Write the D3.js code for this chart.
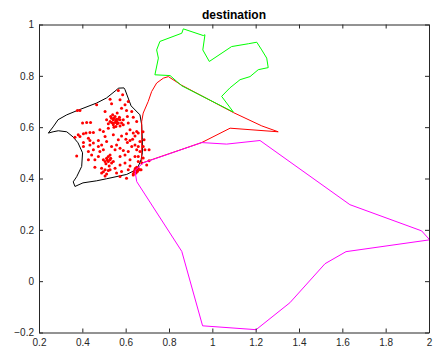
<!DOCTYPE html>
<html>
<head>
<meta charset="utf-8">
<script src="https://d3js.org/d3.v7.min.js"></script>
<style>
  body { margin: 0; background: #fff; }
  svg { display: block; font-family: "Liberation Sans", Arial, sans-serif; }
</style>
</head>
<body>
<svg id="chart" width="434" height="356"></svg>
<script>
// axis ticks
var xTicks = [0.2, 0.4, 0.6, 0.8, 1, 1.2, 1.4, 1.6, 1.8, 2];
var yTicks = [-0.2, 0, 0.2, 0.4, 0.6, 0.8, 1];

// origin region outline (black)
var regionBlack = [
  [0.243, 0.577], [0.265, 0.601], [0.288, 0.629], [0.328, 0.648], [0.374, 0.664],
  [0.466, 0.694], [0.512, 0.714], [0.559, 0.746], [0.566, 0.752], [0.592, 0.753],
  [0.597, 0.746], [0.625, 0.683], [0.666, 0.648], [0.674, 0.609], [0.677, 0.551],
  [0.677, 0.500], [0.671, 0.473], [0.657, 0.445], [0.638, 0.430], [0.605, 0.416],
  [0.512, 0.399], [0.466, 0.391], [0.403, 0.383], [0.366, 0.369], [0.358, 0.387],
  [0.374, 0.407], [0.397, 0.447], [0.401, 0.500], [0.380, 0.539], [0.357, 0.562],
  [0.328, 0.582], [0.289, 0.586], [0.265, 0.582]
];

// red region
var regionRed = [
  [0.674, 0.462], [0.681, 0.462], [0.951, 0.540], [1.082, 0.596], [1.304, 0.582],
  [1.228, 0.605], [1.097, 0.657], [0.859, 0.763], [0.797, 0.797], [0.774, 0.791],
  [0.743, 0.772], [0.720, 0.739], [0.704, 0.700], [0.681, 0.655], [0.674, 0.622]
];

// green region
var regionGreen = [
  [0.866, 0.983], [0.958, 0.957], [0.966, 0.960], [0.956, 0.901], [0.986, 0.856],
  [1.089, 0.914], [1.166, 0.925], [1.205, 0.931], [1.228, 0.901], [1.251, 0.869],
  [1.258, 0.832], [1.212, 0.824], [1.174, 0.797], [1.128, 0.785], [1.081, 0.753],
  [1.043, 0.720], [1.097, 0.659], [0.859, 0.761], [0.805, 0.801], [0.735, 0.804],
  [0.751, 0.869], [0.743, 0.901], [0.758, 0.934], [0.859, 0.966]
];

// magenta region
var regionMagenta = [
  [0.643, 0.431], [0.681, 0.461], [0.951, 0.540], [1.066, 0.534], [1.220, 0.548],
  [1.635, 0.298], [1.966, 0.196], [2.003, 0.161], [1.617, 0.115], [1.520, 0.068],
  [1.358, -0.084], [1.202, -0.189], [0.955, -0.174], [0.859, 0.116], [0.651, 0.388]
];

// destination points
var pointsX = [
  0.566, 0.586, 0.528, 0.574, 0.535, 0.466, 0.505, 0.581, 0.604, 0.628,
  0.635, 0.651, 0.608, 0.589, 0.389, 0.377, 0.401, 0.420, 0.438, 0.405,
  0.417, 0.435, 0.451, 0.381, 0.366, 0.389, 0.428, 0.435, 0.481, 0.497,
  0.505, 0.474, 0.520, 0.589, 0.612, 0.620, 0.635, 0.651, 0.643, 0.658,
  0.632, 0.620, 0.608, 0.601, 0.535, 0.543, 0.551, 0.558, 0.566, 0.543,
  0.528, 0.574, 0.555, 0.540, 0.561, 0.512, 0.581, 0.551, 0.558, 0.535,
  0.546, 0.571, 0.520, 0.531, 0.555, 0.566, 0.546, 0.574, 0.540, 0.561,
  0.405, 0.435, 0.451, 0.474, 0.443, 0.458, 0.481, 0.497, 0.535, 0.551,
  0.558, 0.574, 0.589, 0.574, 0.597, 0.612, 0.628, 0.643, 0.666, 0.658,
  0.651, 0.666, 0.658, 0.681, 0.643, 0.620, 0.597, 0.574, 0.551, 0.528,
  0.512, 0.520, 0.528, 0.505, 0.531, 0.520, 0.509, 0.535, 0.497, 0.524,
  0.543, 0.515, 0.528, 0.489, 0.505, 0.497, 0.512, 0.505, 0.520, 0.489,
  0.558, 0.581, 0.612, 0.620, 0.604, 0.574, 0.635, 0.651, 0.666, 0.674,
  0.658, 0.643, 0.651, 0.654, 0.638, 0.658, 0.648, 0.635, 0.655, 0.645,
  0.374, 0.458, 0.428, 0.451, 0.405, 0.428, 0.474, 0.489, 0.604, 0.581,
  0.543, 0.512, 0.566, 0.689, 0.708, 0.681, 0.697, 0.671, 0.708, 0.685,
  0.680, 0.612, 0.597
];
var pointsY = [
  0.743, 0.726, 0.709, 0.707, 0.691, 0.687, 0.661, 0.674, 0.665, 0.661,
  0.639, 0.622, 0.642, 0.629, 0.665, 0.665, 0.616, 0.618, 0.618, 0.574,
  0.577, 0.579, 0.579, 0.570, 0.561, 0.564, 0.557, 0.548, 0.590, 0.583,
  0.564, 0.548, 0.596, 0.609, 0.616, 0.590, 0.577, 0.583, 0.566, 0.577,
  0.553, 0.548, 0.540, 0.553, 0.635, 0.629, 0.642, 0.622, 0.616, 0.609,
  0.622, 0.629, 0.603, 0.648, 0.655, 0.629, 0.616, 0.618, 0.631, 0.618,
  0.600, 0.639, 0.613, 0.642, 0.626, 0.631, 0.635, 0.605, 0.616, 0.613,
  0.525, 0.531, 0.512, 0.525, 0.492, 0.473, 0.505, 0.512, 0.525, 0.512,
  0.531, 0.518, 0.509, 0.486, 0.492, 0.505, 0.525, 0.531, 0.544, 0.525,
  0.512, 0.505, 0.486, 0.525, 0.486, 0.473, 0.460, 0.453, 0.440, 0.434,
  0.479, 0.466, 0.473, 0.466, 0.479, 0.486, 0.457, 0.460, 0.473, 0.449,
  0.466, 0.473, 0.492, 0.440, 0.434, 0.426, 0.418, 0.410, 0.431, 0.421,
  0.421, 0.427, 0.434, 0.449, 0.401, 0.408, 0.414, 0.444, 0.434, 0.460,
  0.466, 0.434, 0.436, 0.427, 0.426, 0.440, 0.421, 0.418, 0.431, 0.440,
  0.488, 0.444, 0.473, 0.538, 0.540, 0.505, 0.486, 0.531, 0.574, 0.566,
  0.570, 0.544, 0.551, 0.512, 0.512, 0.480, 0.453, 0.434, 0.469, 0.551,
  0.582, 0.700, 0.687
];

var margin = { top: 24.5, right: 5, bottom: 23.5, left: 39 };
var width = 434 - margin.left - margin.right;
var height = 356 - margin.top - margin.bottom;
var axisColor = "#262626";

var svg = d3.select("#chart");

var xScale = d3.scaleLinear().domain([0.2, 2]).range([0, width]);
var yScale = d3.scaleLinear().domain([-0.2, 1]).range([height, 0]);

var g = svg.append("g")
  .attr("transform", "translate(" + margin.left + "," + margin.top + ")");

g.append("clipPath")
  .attr("id", "plot-clip")
  .append("rect")
  .attr("width", width)
  .attr("height", height);

var plot = g.append("g").attr("clip-path", "url(#plot-clip)");

var line = d3.line()
  .x(function (d) { return xScale(d[0]); })
  .y(function (d) { return yScale(d[1]); })
  .curve(d3.curveLinearClosed);

// black outline first
plot.append("path")
  .datum(regionBlack)
  .attr("d", line)
  .attr("fill", "none")
  .attr("stroke", "#000")
  .attr("stroke-width", 1);

// destination points
var pts = pointsX.map(function (x, i) { return [x, pointsY[i]]; });
plot.selectAll(".pt")
  .data(pts)
  .enter()
  .append("circle")
  .attr("class", "pt")
  .attr("cx", function (d) { return xScale(d[0]); })
  .attr("cy", function (d) { return yScale(d[1]); })
  .attr("r", 1.5)
  .attr("fill", "#ff0000");

// other regions
[[regionRed, "#ff0000"], [regionGreen, "#00ff00"], [regionMagenta, "#ff00ff"]].forEach(function (r) {
  plot.append("path")
    .datum(r[0])
    .attr("d", line)
    .attr("fill", "none")
    .attr("stroke", r[1])
    .attr("stroke-width", 1);
});

// axes, MATLAB style box with inward ticks
var tickLen = 4;
var xAxisBottom = d3.axisBottom(xScale).tickValues(xTicks).tickSizeInner(-tickLen).tickSizeOuter(0)
  .tickPadding(6).tickFormat(d3.format("~g"));
var xAxisTop = d3.axisTop(xScale).tickValues(xTicks).tickSizeInner(-tickLen).tickSizeOuter(0).tickFormat("");
var yAxisLeft = d3.axisLeft(yScale).tickValues(yTicks).tickSizeInner(-tickLen).tickSizeOuter(0)
  .tickPadding(5).tickFormat(d3.format("~g"));
var yAxisRight = d3.axisRight(yScale).tickValues(yTicks).tickSizeInner(-tickLen).tickSizeOuter(0).tickFormat("");

g.append("g").attr("class", "x axis").attr("transform", "translate(0," + height + ")").call(xAxisBottom);
g.append("g").attr("class", "x axis").call(xAxisTop);
g.append("g").attr("class", "y axis").call(yAxisLeft);
g.append("g").attr("class", "y axis").attr("transform", "translate(" + width + ",0)").call(yAxisRight);

g.selectAll(".axis path, .axis line").attr("stroke", axisColor).attr("stroke-width", 1);
g.selectAll(".axis text")
  .attr("fill", axisColor)
  .style("font-size", "10px")
  .style("font-family", "Liberation Sans, Arial, sans-serif");

// title
g.append("text")
  .attr("x", width / 2)
  .attr("y", -6)
  .attr("text-anchor", "middle")
  .style("font-size", "12px")
  .style("font-weight", "bold")
  .attr("fill", "#000")
  .text("destination");
</script>
</body>
</html>
